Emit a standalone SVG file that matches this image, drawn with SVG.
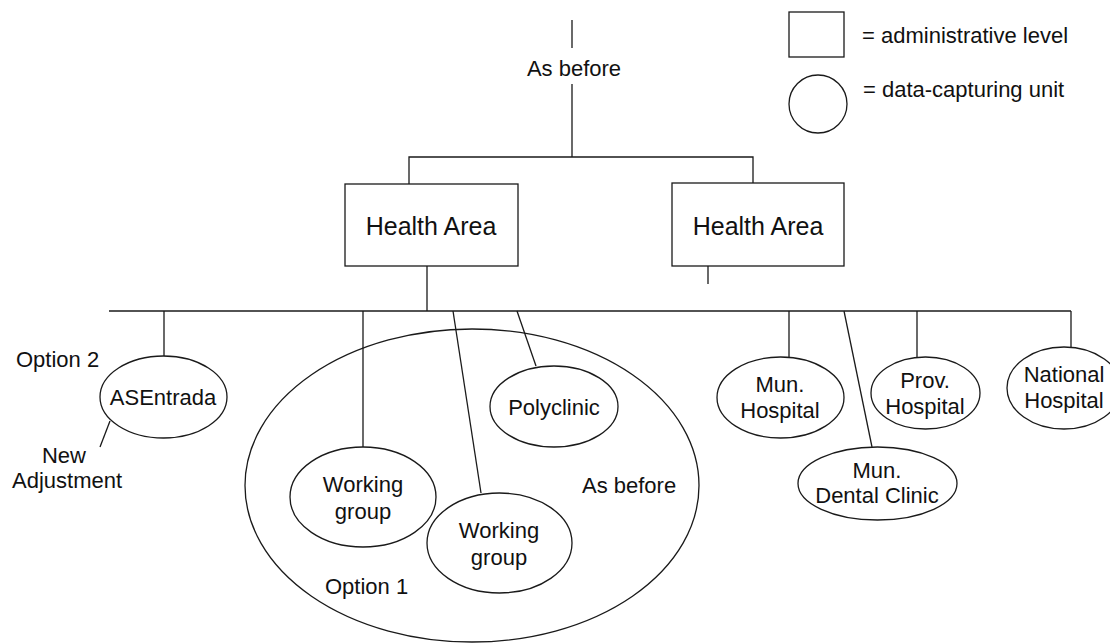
<svg xmlns="http://www.w3.org/2000/svg" width="1110" height="643" viewBox="0 0 1110 643">
  <style>
    .ln { stroke: #1a1a1a; stroke-width: 1.3; fill: none; }
    .shape { stroke: #1a1a1a; stroke-width: 1.3; fill: #fff; }
    .open { stroke: #1a1a1a; stroke-width: 1.3; fill: none; }
    text { font-family: "Liberation Sans", Arial, sans-serif; font-size: 22px; fill: #111; }
    .c { text-anchor: middle; }
    .big { font-size: 25px; }
  </style>
  <rect width="1110" height="643" fill="#fff"/>

  <!-- grouping ellipse for option 1 -->
  <g id="option1-area">
    <ellipse class="open" cx="472" cy="485.5" rx="227" ry="156.5"/>
    <text x="325" y="594">Option 1</text>
    <text x="582" y="493">As before</text>
  </g>

  <!-- connectors -->
  <g id="connectors">
    <line class="ln" x1="572" y1="20" x2="572" y2="48"/>
    <line class="ln" x1="572" y1="84" x2="572" y2="157"/>
    <polyline class="ln" points="409,184 409,157 753,157 753,184"/>
    <line class="ln" x1="427" y1="266" x2="427" y2="311"/>
    <line class="ln" x1="708" y1="266" x2="708" y2="284"/>
    <line class="ln" x1="109" y1="311" x2="1071" y2="311"/>
    <line class="ln" x1="164" y1="311" x2="164" y2="356"/>
    <line class="ln" x1="363" y1="311" x2="363" y2="447"/>
    <line class="ln" x1="453" y1="311" x2="481" y2="493"/>
    <line class="ln" x1="517" y1="311" x2="536" y2="366"/>
    <line class="ln" x1="789" y1="311" x2="789" y2="357"/>
    <line class="ln" x1="844" y1="311" x2="872" y2="447"/>
    <line class="ln" x1="917" y1="311" x2="917" y2="357"/>
    <line class="ln" x1="1071" y1="311" x2="1071" y2="347"/>
    <line class="ln" x1="110" y1="421" x2="100" y2="447"/>
  </g>

  <text class="c" x="574" y="76">As before</text>

  <!-- legend -->
  <g id="legend">
    <rect class="shape" x="789" y="12" width="55" height="45"/>
    <text x="862" y="43">= administrative level</text>
    <circle class="shape" cx="818" cy="104" r="29"/>
    <text x="863" y="97">= data-capturing unit</text>
  </g>

  <g id="health-area-1">
    <rect class="shape" x="345" y="184" width="173" height="82"/>
    <text class="c big" x="431" y="235">Health Area</text>
  </g>
  <g id="health-area-2">
    <rect class="shape" x="672" y="183" width="172" height="83"/>
    <text class="c big" x="758" y="235">Health Area</text>
  </g>

  <g id="asentrada">
    <ellipse class="shape" cx="163.5" cy="397" rx="63.5" ry="41"/>
    <text class="c" x="163" y="405">ASEntrada</text>
    <text x="16" y="367">Option 2</text>
    <text class="c" x="64" y="463">New</text>
    <text x="12" y="488">Adjustment</text>
  </g>

  <g id="working-group-1">
    <ellipse class="shape" cx="363" cy="497" rx="73" ry="50"/>
    <text class="c" x="363" y="492">Working</text>
    <text class="c" x="363" y="519">group</text>
  </g>
  <g id="working-group-2">
    <ellipse class="shape" cx="499.5" cy="543" rx="72.5" ry="50"/>
    <text class="c" x="499" y="538">Working</text>
    <text class="c" x="499" y="565">group</text>
  </g>
  <g id="polyclinic">
    <ellipse class="shape" cx="554" cy="406.5" rx="64" ry="40.5"/>
    <text class="c" x="554" y="415">Polyclinic</text>
  </g>

  <g id="mun-hospital">
    <ellipse class="shape" cx="780.5" cy="397.5" rx="63.5" ry="40.5"/>
    <text class="c" x="780" y="392">Mun.</text>
    <text class="c" x="780" y="418">Hospital</text>
  </g>
  <g id="mun-dental-clinic">
    <ellipse class="shape" cx="877.5" cy="483.5" rx="79.5" ry="36.5"/>
    <text class="c" x="877" y="478">Mun.</text>
    <text class="c" x="877" y="503">Dental Clinic</text>
  </g>
  <g id="prov-hospital">
    <ellipse class="shape" cx="925.5" cy="393" rx="54.5" ry="36"/>
    <text class="c" x="925" y="388">Prov.</text>
    <text class="c" x="925" y="414">Hospital</text>
  </g>
  <g id="national-hospital">
    <ellipse class="shape" cx="1064" cy="388" rx="57" ry="41"/>
    <text class="c" x="1064" y="382">National</text>
    <text class="c" x="1064" y="408">Hospital</text>
  </g>
</svg>
